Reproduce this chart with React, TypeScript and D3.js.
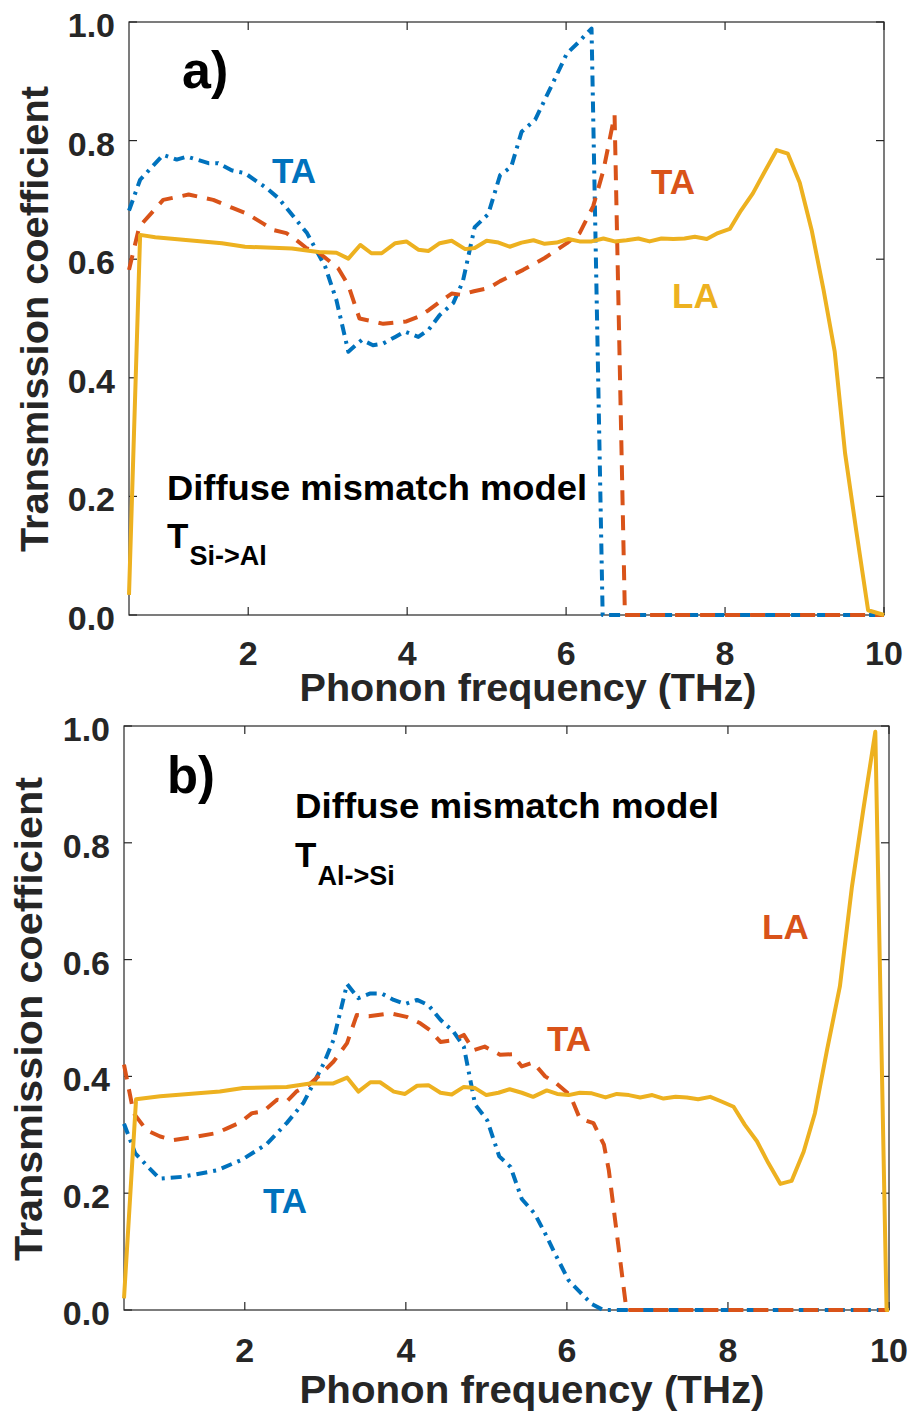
import React from "react";
import * as d3 from "d3";

// ---------- Data ----------
const xDomain = [0.5, 10];
const yDomain = [0, 1];
const xTickValues = [2, 4, 6, 8, 10];
const yTickValues = [0, 0.2, 0.4, 0.6, 0.8, 1.0];

// Panel a) T Si->Al
const aBlueTAFreq = [0.5, 0.64, 0.93, 1.1, 1.23, 1.5, 1.62, 1.79, 1.96, 2.11, 2.23, 2.38, 2.57, 2.74, 2.97, 3.11, 3.26, 3.43, 3.57, 3.7, 3.85, 3.97, 4.14, 4.27, 4.41, 4.58, 4.7, 4.85, 5.02, 5.17, 5.31, 5.44, 5.61, 5.84, 6.01, 6.15, 6.32, 6.46, 10.0];
const aBlueTAVal = [0.682, 0.734, 0.776, 0.768, 0.773, 0.762, 0.762, 0.75, 0.745, 0.731, 0.72, 0.703, 0.672, 0.644, 0.587, 0.531, 0.444, 0.464, 0.455, 0.458, 0.469, 0.478, 0.469, 0.481, 0.506, 0.526, 0.562, 0.654, 0.676, 0.742, 0.756, 0.815, 0.835, 0.899, 0.947, 0.965, 0.989, 0.0, 0.0];

const aOrangeTAFreq = [0.5, 0.63, 0.93, 1.25, 1.56, 1.81, 1.98, 2.19, 2.32, 2.48, 2.57, 2.74, 2.86, 3.0, 3.13, 3.26, 3.4, 3.57, 3.7, 3.85, 3.99, 4.14, 4.27, 4.41, 4.56, 4.68, 4.84, 5.02, 5.17, 5.46, 5.73, 6.01, 6.17, 6.34, 6.47, 6.61, 6.74, 10.0];
const aOrangeTAVal = [0.582, 0.655, 0.7, 0.709, 0.7, 0.686, 0.677, 0.66, 0.649, 0.644, 0.636, 0.618, 0.614, 0.599, 0.585, 0.556, 0.5, 0.495, 0.491, 0.493, 0.495, 0.503, 0.514, 0.528, 0.542, 0.54, 0.546, 0.551, 0.563, 0.582, 0.602, 0.627, 0.644, 0.689, 0.75, 0.843, 0.0, 0.0];

const aYellowLAFreq = [0.5, 0.64, 0.83, 1.67, 1.96, 2.55, 2.88, 3.11, 3.26, 3.41, 3.55, 3.68, 3.85, 3.99, 4.14, 4.27, 4.41, 4.56, 4.73, 4.85, 5.0, 5.15, 5.29, 5.44, 5.59, 5.73, 5.88, 6.03, 6.17, 6.32, 6.47, 6.61, 6.76, 6.91, 7.05, 7.2, 7.35, 7.49, 7.62, 7.77, 7.91, 8.06, 8.2, 8.35, 8.5, 8.65, 8.79, 8.94, 9.09, 9.24, 9.38, 9.51, 9.65, 9.8, 10.0];
const aYellowLAVal = [0.034, 0.641, 0.637, 0.627, 0.621, 0.618, 0.612, 0.611, 0.601, 0.624, 0.61, 0.61, 0.627, 0.63, 0.616, 0.614, 0.627, 0.631, 0.617, 0.619, 0.631, 0.628, 0.621, 0.628, 0.632, 0.626, 0.628, 0.634, 0.63, 0.63, 0.635, 0.63, 0.632, 0.635, 0.63, 0.635, 0.634, 0.635, 0.638, 0.634, 0.644, 0.651, 0.682, 0.711, 0.748, 0.784, 0.778, 0.729, 0.649, 0.548, 0.444, 0.273, 0.143, 0.008, 0.0];

// Panel b) T Al->Si
const bBlueTAFreq = [0.5, 0.64, 0.94, 1.22, 1.65, 1.96, 2.27, 2.52, 2.73, 2.98, 3.1, 3.27, 3.41, 3.56, 3.7, 3.85, 3.99, 4.14, 4.28, 4.43, 4.59, 4.72, 4.86, 5.01, 5.16, 5.3, 5.44, 5.6, 5.73, 5.85, 6.02, 6.16, 6.31, 6.45, 10.0];
const bBlueTAVal = [0.319, 0.268, 0.225, 0.228, 0.239, 0.257, 0.284, 0.32, 0.355, 0.422, 0.462, 0.558, 0.534, 0.542, 0.542, 0.531, 0.524, 0.531, 0.522, 0.497, 0.477, 0.451, 0.352, 0.325, 0.263, 0.245, 0.19, 0.165, 0.131, 0.097, 0.051, 0.031, 0.01, 0.0, 0.0];

const bOrangeTAFreq = [0.5, 0.62, 0.78, 0.95, 1.11, 1.4, 1.65, 1.78, 1.94, 2.09, 2.23, 2.4, 2.52, 2.64, 2.8, 2.93, 3.1, 3.27, 3.39, 3.54, 3.81, 4.01, 4.18, 4.3, 4.43, 4.59, 4.72, 4.84, 4.98, 5.17, 5.32, 5.44, 5.58, 5.73, 5.87, 6.04, 6.16, 6.33, 6.46, 6.52, 6.74, 10.0];
const bOrangeTAVal = [0.42, 0.337, 0.308, 0.297, 0.291, 0.297, 0.303, 0.311, 0.321, 0.337, 0.34, 0.36, 0.357, 0.374, 0.386, 0.402, 0.425, 0.457, 0.505, 0.503, 0.508, 0.502, 0.491, 0.479, 0.459, 0.462, 0.471, 0.445, 0.451, 0.437, 0.438, 0.417, 0.424, 0.4, 0.388, 0.368, 0.328, 0.32, 0.283, 0.24, 0.0, 0.0];

const bYellowLAFreq = [0.5, 0.65, 0.95, 1.69, 1.98, 2.52, 2.81, 3.1, 3.27, 3.41, 3.56, 3.68, 3.85, 3.99, 4.14, 4.28, 4.43, 4.57, 4.72, 4.86, 5.0, 5.15, 5.29, 5.44, 5.58, 5.75, 5.88, 6.02, 6.16, 6.31, 6.48, 6.62, 6.77, 6.91, 7.06, 7.2, 7.35, 7.49, 7.63, 7.78, 7.92, 8.07, 8.21, 8.36, 8.5, 8.65, 8.79, 8.94, 9.08, 9.23, 9.39, 9.54, 9.68, 9.83, 9.97, 10.0];
const bYellowLAVal = [0.02, 0.361, 0.366, 0.374, 0.38, 0.382, 0.388, 0.388, 0.398, 0.374, 0.39, 0.39, 0.374, 0.37, 0.384, 0.385, 0.372, 0.369, 0.382, 0.38, 0.368, 0.372, 0.378, 0.372, 0.365, 0.376, 0.37, 0.368, 0.372, 0.371, 0.364, 0.37, 0.368, 0.364, 0.368, 0.362, 0.365, 0.364, 0.361, 0.365, 0.357, 0.348, 0.317, 0.289, 0.252, 0.216, 0.221, 0.271, 0.337, 0.445, 0.554, 0.725, 0.856, 0.99, 0.0, 0.0];

// ---------- Styles ----------
const FONT = "'Liberation Sans', Arial, Helvetica, sans-serif";
const AXIS = "#262626";
const BLUE = "#0072BD";
const ORANGE = "#D95319";
const YELLOW = "#EDB120";

type Series = { freq: number[]; val: number[]; color: string; dash?: string };
type Note = { x: number; y: number; text: string; color: string; size: number; sub?: string; subSize?: number; subDx?: number; subDy?: number; len?: number };

type PanelProps = {
  left: number; right: number; top: number; bottom: number;
  series: Series[];
  notes: Note[];
  yLabelX: number; yLabelY: number; yLabelLen: number;
  xLabelX: number; xLabelY: number; xLabelLen: number;
  yTickX: number; xTickY: number;
};

function Panel(p: PanelProps) {
  const xs = d3.scaleLinear().domain(xDomain).range([p.left, p.right]);
  const ys = d3.scaleLinear().domain(yDomain).range([p.bottom, p.top]);
  const line = d3.line<[number, number]>().x(d => xs(d[0])).y(d => ys(d[1]));
  const tl = 8;
  const fmt = d3.format(".1f");
  return (
    <g>
      <rect x={p.left} y={p.top} width={p.right - p.left} height={p.bottom - p.top} fill="none" stroke={AXIS} strokeWidth={1.2} />
      {xTickValues.map(v => (
        <g key={"xt" + v}>
          <line x1={xs(v)} x2={xs(v)} y1={p.bottom} y2={p.bottom - tl} stroke={AXIS} strokeWidth={1.2} />
          <line x1={xs(v)} x2={xs(v)} y1={p.top} y2={p.top + tl} stroke={AXIS} strokeWidth={1.2} />
          <text x={xs(v)} y={p.xTickY} textAnchor="middle" fontFamily={FONT} fontWeight="bold" fontSize={34} fill={AXIS}>{v}</text>
        </g>
      ))}
      {yTickValues.map(v => (
        <g key={"yt" + v}>
          <line x1={p.left} x2={p.left + tl} y1={ys(v)} y2={ys(v)} stroke={AXIS} strokeWidth={1.2} />
          <line x1={p.right} x2={p.right - tl} y1={ys(v)} y2={ys(v)} stroke={AXIS} strokeWidth={1.2} />
          <text x={p.yTickX} y={ys(v) + 15} textAnchor="end" fontFamily={FONT} fontWeight="bold" fontSize={34} fill={AXIS}>{fmt(v)}</text>
        </g>
      ))}
      {p.series.map((s, i) => (
        <path key={"s" + i} d={line(d3.zip(s.freq, s.val) as [number, number][]) || ""} fill="none" stroke={s.color} strokeWidth={4} strokeDasharray={s.dash} strokeLinejoin="round" />
      ))}
      <text transform={`translate(${p.yLabelX},${p.yLabelY}) rotate(-90)`} textAnchor="middle" fontFamily={FONT} fontWeight="bold" fontSize={39} fill={AXIS} textLength={p.yLabelLen} lengthAdjust="spacingAndGlyphs">Transmission coefficient</text>
      <text x={p.xLabelX} y={p.xLabelY} textAnchor="middle" fontFamily={FONT} fontWeight="bold" fontSize={39} fill={AXIS} textLength={p.xLabelLen} lengthAdjust="spacingAndGlyphs">Phonon frequency (THz)</text>
      {p.notes.map((n, i) => (
        <text key={"n" + i} x={n.x} y={n.y} fontFamily={FONT} fontWeight="bold" fontSize={n.size} fill={n.color} textLength={n.len} lengthAdjust={n.len ? "spacingAndGlyphs" : undefined}>
          {n.text}
          {n.sub ? <tspan fontSize={n.subSize} dx={n.subDx} dy={n.subDy}>{n.sub}</tspan> : null}
        </text>
      ))}
    </g>
  );
}

export default function App() {
  const blueDash = "11 6 3 6";
  const orangeDash = "15 10";
  return (
    <svg width={914} height={1416} style={{ position: "absolute", left: 0, top: 0, background: "#fff" }}>
      <rect x={0} y={0} width={914} height={1416} fill="#fff" />
      <Panel
        left={129} right={884} top={22} bottom={615}
        yLabelX={48} yLabelY={319} yLabelLen={466}
        xLabelX={528} xLabelY={701} xLabelLen={457}
        yTickX={115} xTickY={665}
        series={[
          { freq: aBlueTAFreq, val: aBlueTAVal, color: BLUE, dash: blueDash },
          { freq: aOrangeTAFreq, val: aOrangeTAVal, color: ORANGE, dash: orangeDash },
          { freq: aYellowLAFreq, val: aYellowLAVal, color: YELLOW },
        ]}
        notes={[
          { x: 182, y: 88, text: "a)", color: "#000", size: 52 },
          { x: 272, y: 183, text: "TA", color: BLUE, size: 35 },
          { x: 651, y: 194, text: "TA", color: ORANGE, size: 35 },
          { x: 672, y: 308, text: "LA", color: YELLOW, size: 35 },
          { x: 167, y: 500, text: "Diffuse mismatch model", color: "#000", size: 35, len: 420 },
          { x: 167, y: 548, text: "T", color: "#000", size: 35, sub: "Si->Al", subSize: 27, subDx: 1, subDy: 17 },
        ]}
      />
      <Panel
        left={124} right={889} top={726} bottom={1310}
        yLabelX={42} yLabelY={1019} yLabelLen={484}
        xLabelX={532} xLabelY={1403} xLabelLen={465}
        yTickX={110} xTickY={1362}
        series={[
          { freq: bBlueTAFreq, val: bBlueTAVal, color: BLUE, dash: blueDash },
          { freq: bOrangeTAFreq, val: bOrangeTAVal, color: ORANGE, dash: orangeDash },
          { freq: bYellowLAFreq, val: bYellowLAVal, color: YELLOW },
        ]}
        notes={[
          { x: 167, y: 793, text: "b)", color: "#000", size: 52, len: 48 },
          { x: 295, y: 818, text: "Diffuse mismatch model", color: "#000", size: 35, len: 424 },
          { x: 295, y: 867, text: "T", color: "#000", size: 35, sub: "Al->Si", subSize: 27, subDx: 1, subDy: 18 },
          { x: 762, y: 939, text: "LA", color: ORANGE, size: 35 },
          { x: 547, y: 1051, text: "TA", color: ORANGE, size: 35 },
          { x: 263, y: 1213, text: "TA", color: BLUE, size: 35 },
        ]}
      />
    </svg>
  );
}
